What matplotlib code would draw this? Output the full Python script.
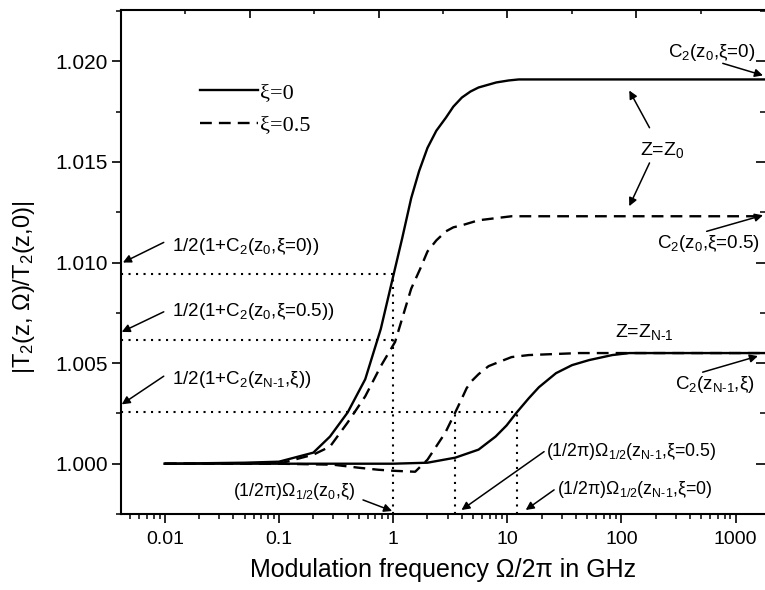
import matplotlib
matplotlib.use("Agg")
import matplotlib.pyplot as plt
from matplotlib.ticker import LogLocator, MultipleLocator, FuncFormatter, NullFormatter

plt.rcParams['font.family'] = ['Liberation Sans', 'DejaVu Sans']
plt.rcParams['mathtext.fontset'] = 'custom'
plt.rcParams['mathtext.rm'] = 'Liberation Sans'
plt.rcParams['mathtext.it'] = 'Liberation Sans:italic'
plt.rcParams['mathtext.bf'] = 'Liberation Sans:bold'

# values: modulation frequency (GHz) vs |T2(z,Omega)/T2(z,0)|
# z = z0, xi = 0
freq_z0_xi0 = [0.01, 0.05, 0.1, 0.2, 0.28, 0.4, 0.57, 0.78, 1.0, 1.2, 1.44, 1.69, 2.0, 2.39, 2.9, 3.37,
               4.0, 4.76, 5.6, 8.0, 10.3, 12.6, 22, 100, 2000]
t2_z0_xi0 = [1.0, 1.00005, 1.0001, 1.00055, 1.00135, 1.00255, 1.0042, 1.0067, 1.0093, 1.0112, 1.0132,
             1.01455, 1.0157, 1.01655, 1.0172, 1.01775, 1.0182, 1.0185, 1.0187, 1.01895, 1.01905,
             1.0191, 1.0191, 1.0191, 1.0191]
# z = z0, xi = 0.5
freq_z0_xi05 = [0.01, 0.05, 0.1, 0.2, 0.28, 0.4, 0.57, 0.78, 1.04, 1.44, 1.73, 2.0, 2.39, 2.9, 3.37,
                4.0, 5.6, 10.9, 100, 2000]
t2_z0_xi05 = [1.0, 1.0, 1.0, 1.00045, 1.00085, 1.00205, 1.00335, 1.00485, 1.00605, 1.0087, 1.0097,
              1.01055, 1.0111, 1.01155, 1.01175, 1.01185, 1.0121, 1.0123, 1.0123, 1.0123]
# z = zN-1, xi = 0
freq_zN_xi0 = [0.01, 0.1, 1.0, 2.0, 3.5, 5.6, 7.9, 9.85, 12.1, 15.4, 18.9, 26.7, 36.9, 52, 83, 117, 2000]
t2_zN_xi0 = [1.0, 1.0, 1.0, 1.00005, 1.0003, 1.0007, 1.00135, 1.0019, 1.00255, 1.00325, 1.0038, 1.0045,
             1.0049, 1.00515, 1.0054, 1.0055, 1.0055]
# z = zN-1, xi = 0.5
freq_zN_xi05 = [0.01, 0.1, 0.3, 0.5, 0.74, 1.0, 1.56, 2.0, 2.87, 3.5, 3.97, 4.4, 4.86, 5.6, 6.86, 8.4,
                10.9, 15.4, 42.5, 2000]
t2_zN_xi05 = [1.0, 1.0, 0.99995, 0.9998, 0.9997, 0.99965, 0.9996, 1.0002, 1.00155, 1.00255, 1.0032,
              1.00375, 1.0041, 1.00445, 1.00485, 1.00505, 1.0053, 1.0054, 1.0055, 1.0055]

# half-rise levels and the frequencies where they are reached
half_levels = [1.00945, 1.00615, 1.00255]
half_ends = [1.0, 1.0, 12.1]
half_freqs = [1.0, 3.5, 12.1]
half_freq_tops = [1.00945, 1.00255, 1.00255]

x_left, x_right = 0.00414, 1807
y_bottom, y_top = 0.9975, 1.02255

fig = plt.figure(figsize=(7.65, 5.9), dpi=100)
ax = fig.add_axes([0.1582, 0.1288, 0.8418, 0.8542])

ax.plot(freq_z0_xi0, t2_z0_xi0, color='k', lw=1.7, label='ξ=0')
ax.plot(freq_z0_xi05, t2_z0_xi05, color='k', lw=1.7, ls='--', dashes=(5, 3), label='ξ=0.5')
ax.plot(freq_zN_xi0, t2_zN_xi0, color='k', lw=1.7)
ax.plot(freq_zN_xi05, t2_zN_xi05, color='k', lw=1.7, ls='--', dashes=(5, 3))

dot = dict(color='k', lw=1.5, ls=(0, (1, 2.6)))
for lev, xe in zip(half_levels, half_ends):
    ax.plot([x_left, xe], [lev, lev], **dot)
for xf, yt in zip(half_freqs, half_freq_tops):
    ax.plot([xf, xf], [y_bottom, yt], **dot)

ax.set_xscale('log')
ax.set_xlim(x_left, x_right)
ax.set_ylim(y_bottom, y_top)

ax.xaxis.set_major_locator(LogLocator(base=10))
ax.xaxis.set_minor_locator(LogLocator(base=10, subs=range(2, 10)))
ax.xaxis.set_major_formatter(FuncFormatter(lambda v, p: f'{v:g}'))
ax.xaxis.set_minor_formatter(NullFormatter())
ax.yaxis.set_major_locator(MultipleLocator(0.005))
ax.yaxis.set_minor_locator(MultipleLocator(0.0025))
ax.yaxis.set_major_formatter(FuncFormatter(lambda v, p: f'{v:.3f}'))

ax.tick_params(axis='x', which='major', direction='out', length=6.5, width=1.2, labelsize=14, pad=6)
ax.tick_params(axis='x', which='minor', direction='out', length=3.5, width=1.1)
ax.tick_params(axis='y', which='major', direction='out', length=6.5, width=1.2, labelsize=15, pad=3)
ax.tick_params(axis='y', which='minor', direction='out', length=3.5, width=1.1)
ax.tick_params(axis='y', which='both', right=True)
for s in ['left', 'bottom', 'top']:
    ax.spines[s].set_linewidth(1.5)
ax.spines['right'].set_visible(False)

# top axis carries its own evenly spaced ticks
ax2 = ax.twiny()
ax2.set_xlim(0, 1)
ax2.set_xticks([0.2, 0.4, 0.6, 0.8])
ax2.set_xticks([0.1, 0.3, 0.5, 0.7, 0.9], minor=True)
ax2.tick_params(axis='x', which='major', direction='in', length=6, width=1.2, labeltop=False)
ax2.tick_params(axis='x', which='minor', direction='in', length=3, width=1.1)
for s in ax2.spines.values():
    s.set_visible(False)

# right ticks point inward
for t in ax.yaxis.get_major_ticks() + ax.yaxis.get_minor_ticks():
    t.tick2line.set_marker(matplotlib.markers.TICKLEFT)

ax.set_xlabel('Modulation frequency Ω/2π in GHz', fontsize=18, labelpad=7)
ax.set_ylabel('|T$_2$(z, Ω)/T$_2$(z,0)|', fontsize=17)
ax.yaxis.set_label_coords(-0.131, 0.45)

ax.legend(loc='upper left', bbox_to_anchor=(0.123, 0.857), frameon=False, handlelength=2.6,
          handletextpad=0.1, labelspacing=0.55, borderpad=0, borderaxespad=0,
          prop={'family': 'Liberation Serif', 'size': 16})

arrow = dict(arrowstyle='-|>', color='k', lw=1.1, mutation_scale=12, shrinkA=0, shrinkB=0)
fs = 13.5

def note(txt, xy, ha='left', size=fs):
    ax.text(xy[0], xy[1], txt, fontsize=size, ha=ha, va='center')

def arr(tail, tip):
    ax.annotate('', xy=tip, xytext=tail, arrowprops=arrow)

note('1/2(1+C$_2$(z$_0$,ξ=0))', (0.0116, 1.0108))
arr((0.0098, 1.0110), (0.0043, 1.0100))
note('1/2(1+C$_2$(z$_0$,ξ=0.5))', (0.0116, 1.00755))
arr((0.0098, 1.00755), (0.0042, 1.00655))
note(r'1/2(1+C$_2$(z$_{\mathrm{N}\text{-}1}$,ξ))', (0.0116, 1.0042))
arr((0.0098, 1.00435), (0.0042, 1.00295))

note('C$_2$(z$_0$,ξ=0)', (617, 1.02045), ha='center')
arr((771, 1.0199), (1735, 1.0193))
note('Z=Z$_0$', (229, 1.0156), ha='center', size=14)
arr((176, 1.0167), (117, 1.01855))
arr((176, 1.01495), (117, 1.0128))
note('C$_2$(z$_0$,ξ=0.5)', (581, 1.01095), ha='center')
arr((557, 1.01155), (1735, 1.01235))
note(r'Z=Z$_{\mathrm{N}\text{-}1}$', (159, 1.00655), ha='center', size=14)
note(r'C$_2$(z$_{\mathrm{N}\text{-}1}$,ξ)', (656, 1.00395), ha='center')
arr((514, 1.00455), (1567, 1.00535))

note(r'(1/2π)Ω$_{1/2}$(z$_{\mathrm{N}\text{-}1}$,ξ=0.5)', (21.8, 1.0006), size=12.8)
arr((21.0, 1.0006), (3.97, 0.9977))
note(r'(1/2π)Ω$_{1/2}$(z$_{\mathrm{N}\text{-}1}$,ξ=0)', (27.2, 0.9987), size=12.8)
arr((25.7, 0.9987), (14.5, 0.9977))
note('(1/2π)Ω$_{1/2}$(z$_0$,ξ)', (0.463, 0.9986), ha='right', size=12.8)
arr((0.545, 0.9982), (0.98, 0.99765))

fig.savefig('out.png', dpi=100)
